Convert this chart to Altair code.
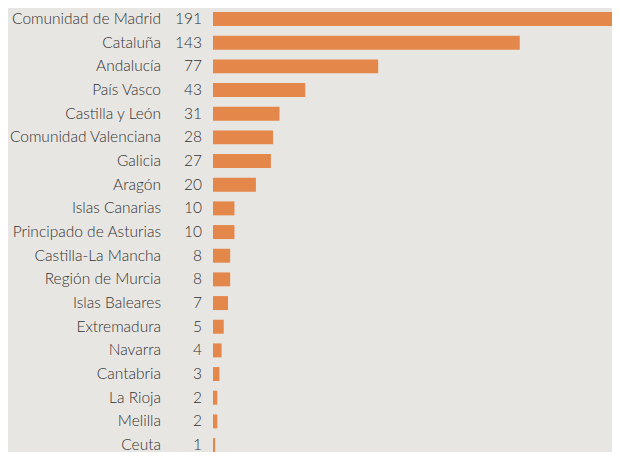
import altair as alt
import pandas as pd

regions = ["Comunidad de Madrid", "Cataluña", "Andalucía", "País Vasco", "Castilla y León",
           "Comunidad Valenciana", "Galicia", "Aragón", "Islas Canarias", "Principado de Asturias",
           "Castilla-La Mancha", "Región de Murcia", "Islas Baleares", "Extremadura", "Navarra",
           "Cantabria", "La Rioja", "Melilla", "Ceuta"]
values = [191, 143, 77, 43, 31, 28, 27, 20, 10, 10, 8, 8, 7, 5, 4, 3, 2, 2, 1]

df = pd.DataFrame({"region": regions, "value": values})

FONT = "Lato"
TXT = "#333333"
FS = 15.5

y = alt.Y("region:N", sort=regions, axis=None,
          scale=alt.Scale(range=[-0.8, 448.9], paddingInner=0.41, paddingOuter=0.205))
x = alt.X("value:Q", axis=None, scale=alt.Scale(domain=[0, 186], nice=False))

bars = alt.Chart(df).mark_bar(color="#e4874a").encode(x=x, y=y)

labels = alt.Chart(df).mark_text(align="right", baseline="middle", font=FONT,
                                 fontSize=FS, fontWeight=300, color=TXT).encode(
    y=y, x=alt.value(-52), text="region:N")

nums = alt.Chart(df).mark_text(align="right", baseline="middle", font=FONT,
                               fontSize=FS, fontWeight=300, color=TXT).encode(
    y=y, x=alt.value(-11), text="value:Q")

chart = alt.layer(bars, labels, nums).properties(
    width=399, height=444,
    background="#e8e6e2",
    padding={"left": 205, "top": 0, "right": 0, "bottom": 0},
    autosize=alt.AutoSizeParams(type="none"),
).configure_view(stroke=None)

chart.save("out.html", embed_options={"renderer": "svg", "actions": False})
